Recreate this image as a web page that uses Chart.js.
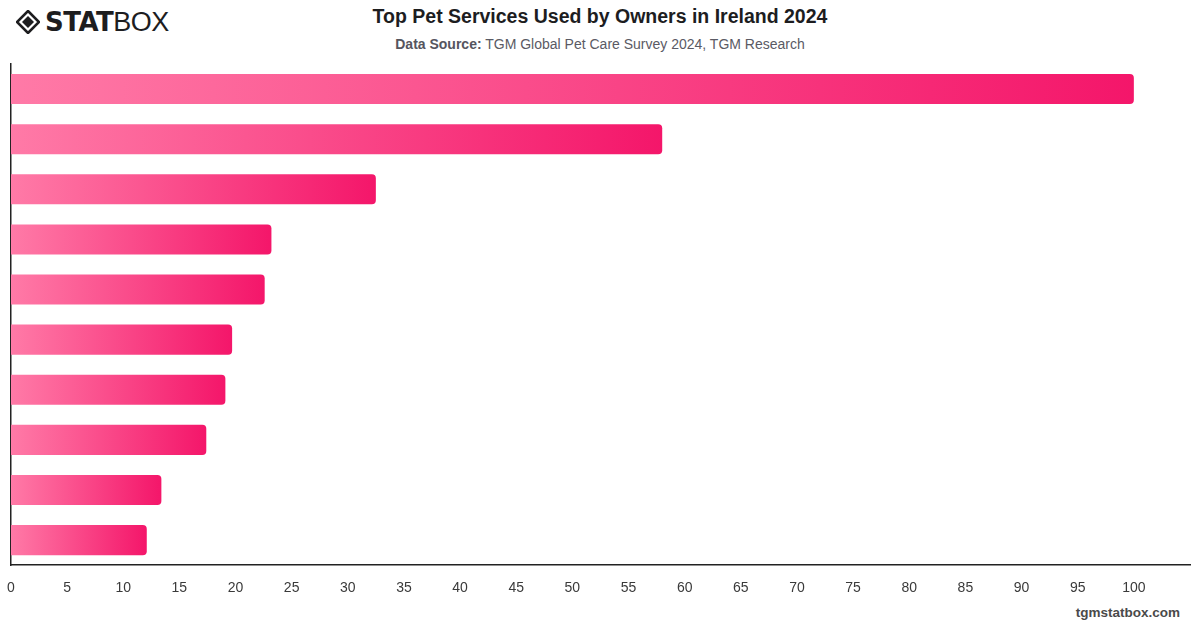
<!DOCTYPE html>
<html>
<head>
<meta charset="utf-8">
<script src="https://cdn.jsdelivr.net/npm/chart.js@4.4.1/dist/chart.umd.min.js"></script>
<style>
  html, body { margin: 0; padding: 0; background: #fff; }
  body { width: 1200px; height: 628px; position: relative; overflow: hidden;
         font-family: 'Liberation Sans', Arial, sans-serif; }
  .logo { position: absolute; left: 16px; top: 6px; height: 32px; display: flex; align-items: center; }
  .logo .stat { font-family: 'DejaVu Sans', sans-serif; font-weight: 900; font-size: 26px; color: #1d1d1f; letter-spacing: -0.5px; margin-left: 5px; }
  .logo .box  { font-family: 'Liberation Sans', sans-serif; font-weight: 400; font-size: 27px; color: #1d1d1f; letter-spacing: -0.5px; }
  .title { position: absolute; top: 5px; left: 0; width: 1200px; text-align: center;
           font-weight: 700; font-size: 19.5px; color: #1d1d1f; }
  .subtitle { position: absolute; top: 36px; left: 0; width: 1200px; text-align: center;
              font-size: 14px; color: #5a5a64; }
  .subtitle b { color: #55555e; }
  .footer { position: absolute; right: 20px; top: 605px; font-weight: 700; font-size: 13.5px; color: #4a4a4a; }
  .wrap { position: absolute; left: 0; top: 54px; width: 1200px; height: 550px; }
</style>
</head>
<body>
<div class="logo">
  <svg width="24" height="24" viewBox="0 0 24 24">
    <path d="M12 1 L23 12 L12 23 L1 12 Z" fill="none" stroke="#1d1d1f" stroke-width="2.6"/>
    <path d="M12 6 L18 12 L12 18 L6 12 Z" fill="#1d1d1f"/>
  </svg>
  <span class="stat">STAT</span><span class="box">BOX</span>
</div>
<div class="title">Top Pet Services Used by Owners in Ireland 2024</div>
<div class="subtitle"><b>Data Source:</b> TGM Global Pet Care Survey 2024, TGM Research</div>
<div class="wrap"><canvas id="chart"></canvas></div>
<div class="footer">tgmstatbox.com</div>
<script>
// category names are not printed on the chart
const categories = ['Service 1', 'Service 2', 'Service 3', 'Service 4', 'Service 5',
                    'Service 6', 'Service 7', 'Service 8', 'Service 9', 'Service 10'];
const values = [100, 58, 32.5, 23.2, 22.6, 19.7, 19.1, 17.4, 13.4, 12.1];
const xTicks = [0, 5, 10, 15, 20, 25, 30, 35, 40, 45, 50, 55, 60, 65, 70, 75, 80, 85, 90, 95, 100];

// left-to-right pink gradient, spanning each bar from base to tip
function barGradient(ctx) {
  const chart = ctx.chart;
  if (!chart.chartArea || !chart.scales.x) return '#f5176a';
  const x = chart.scales.x;
  const x0 = x.getPixelForValue(0);
  const x1 = x.getPixelForValue(ctx.parsed ? ctx.parsed.x : 0);
  if (!isFinite(x1) || x1 <= x0) return '#f5176a';
  const g = chart.ctx.createLinearGradient(x0, 0, x1, 0);
  g.addColorStop(0, '#ff7aa7');
  g.addColorStop(1, '#f4166a');
  return g;
}

new Chart(document.getElementById('chart'), {
  type: 'bar',
  data: {
    labels: categories,
    datasets: [{
      data: values,
      backgroundColor: barGradient,
      borderRadius: { topLeft: 0, bottomLeft: 0, topRight: 4, bottomRight: 4 },
      borderSkipped: false,
      categoryPercentage: 0.6,
      barPercentage: 1.0,
    }]
  },
  options: {
    indexAxis: 'y',
    responsive: true,
    maintainAspectRatio: false,
    animation: false,
    layout: { padding: { left: 10, right: 10, top: 10, bottom: 0 } },
    plugins: { legend: { display: false }, tooltip: { enabled: false } },
    scales: {
      x: {
        min: 0, max: 105,
        grid: { display: false },
        border: { display: true, color: '#222', width: 1.5 },
        afterBuildTicks: axis => { axis.ticks = xTicks.map(v => ({ value: v })); },
        ticks: { color: '#3a3a3a', font: { family: "'Liberation Sans', Arial, sans-serif", size: 14 }, padding: 7, maxRotation: 0 }
      },
      y: {
        grid: { display: false },
        border: { display: true, color: '#222', width: 1.5 },
        ticks: { display: false },
        afterFit: axis => { axis.width = 0; }
      }
    }
  }
});
</script>
</body>
</html>
